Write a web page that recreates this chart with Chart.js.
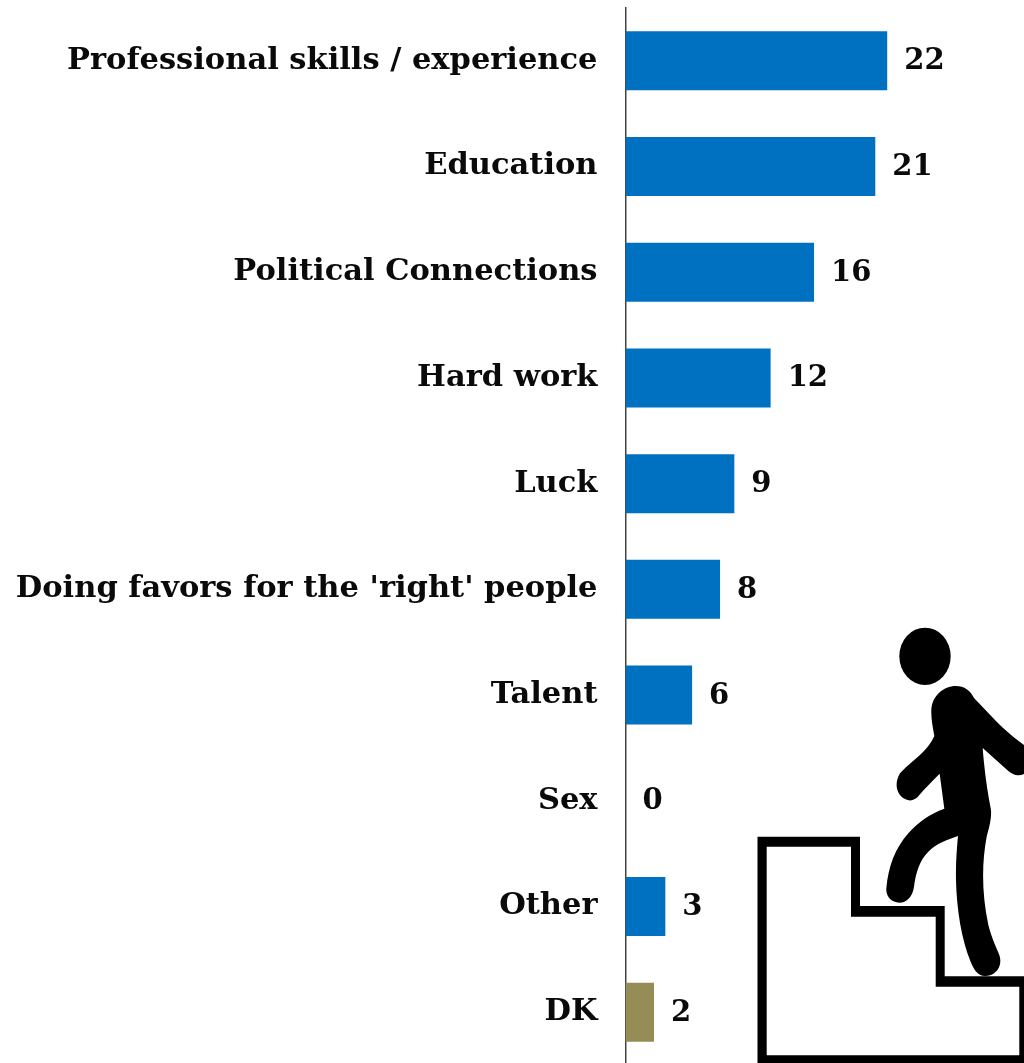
<!DOCTYPE html>
<html lang="en">
<head>
<meta charset="UTF-8">
<title>Chart</title>
<script src="https://cdn.jsdelivr.net/npm/chart.js"></script>
<style>
  html, body { margin: 0; padding: 0; background: #fff; overflow: hidden; }
  #wrap { position: absolute; left: 0; top: 0; width: 1024px; height: 1063px; overflow: hidden; }
  #figure { position: absolute; left: 0; top: 0; }
</style>
</head>
<body>
<div id="wrap"><canvas id="chart" width="1024" height="1065"></canvas>
<svg id="figure" width="1024" height="1063">
  <path fill="#000" fill-rule="evenodd" d="M757.5,1063 V836.7 H860 V906 H944.7 V976.3 H1024 V1063 Z M766.7,1055.3 V846.7 H851 V916.7 H935.7 V986.7 H1019.3 V1055.3 Z"/>
  <g transform="translate(740,610) scale(0.33333)" fill="#000">
    <ellipse cx="555" cy="139" rx="77" ry="86"/>
    <path d="M648,228 C672,228 692,242 702,264 L770,335 C800,365 825,385 852,405 L852,492 C835,500 820,495 805,483 L728,414 C733,480 742,545 753,600 C755,630 745,660 740,680 C725,760 725,850 745,945 C755,985 770,1015 778,1035 C790,1070 765,1098 735,1098 C712,1098 700,1075 692,1055 C665,990 650,900 648,810 C647,760 650,720 654,678 C620,690 590,700 565,725 C540,750 528,785 522,830 C518,860 500,878 478,878 C455,878 437,860 439,835 C445,770 465,715 505,670 C535,635 570,612 613,596 L599,491 C575,515 555,535 538,555 C525,572 510,575 495,567 C472,555 460,525 480,490 C510,455 560,430 583,378 C578,350 573,325 574,300 C576,258 610,228 648,228 Z"/>
  </g>
</svg></div>
<script>
const categories = ['Professional skills / experience', 'Education', 'Political Connections', 'Hard work', 'Luck', "Doing favors for the 'right' people", 'Talent', 'Sex', 'Other', 'DK'];
// bar lengths, the printed labels are the rounded numbers
const values = [22, 21, 15.85, 12.2, 9.15, 7.95, 5.6, 0, 3.35, 2.4];
const valueLabelText = ['22', '21', '16', '12', '9', '8', '6', '0', '3', '2'];
const barColors = ['#0071c1', '#0071c1', '#0071c1', '#0071c1', '#0071c1', '#0071c1', '#0071c1', '#0071c1', '#0071c1', '#968c55'];

const valueLabels = {
  id: 'valueLabels',
  afterDatasetsDraw(chart) {
    const ctx = chart.ctx;
    const meta = chart.getDatasetMeta(0);
    ctx.save();
    ctx.font = 'bold 29px "DejaVu Serif"';
    ctx.fillStyle = '#0a0a0a';
    ctx.textAlign = 'left';
    ctx.textBaseline = 'middle';
    meta.data.forEach((bar, i) => {
      ctx.fillText(valueLabelText[i], bar.x + 17, bar.y + 1);
    });
    ctx.restore();
  }
};

new Chart(document.getElementById('chart'), {
  type: 'bar',
  data: {
    labels: categories,
    datasets: [{ data: values, backgroundColor: barColors, categoryPercentage: 1, barPercentage: 0.558 }]
  },
  options: {
    responsive: false,
    animation: false,
    indexAxis: 'y',
    layout: { padding: { left: 0, right: 0, top: 8, bottom: 0 } },
    plugins: { legend: { display: false }, tooltip: { enabled: false } },
    scales: {
      x: { display: false, min: 0, max: 33.5 },
      y: {
        afterFit(scale) {
          scale.width = 625.5;
          scale.paddingTop = 0;
          scale.paddingBottom = 0;
        },
        grid: { display: false, drawTicks: false },
        border: { display: true, color: '#444', width: 1.5 },
        ticks: { color: '#0a0a0a', padding: 28, font: { family: 'DejaVu Serif', weight: 'bold', size: 30.5 } }
      }
    }
  },
  plugins: [valueLabels]
});
</script>
</body>
</html>
